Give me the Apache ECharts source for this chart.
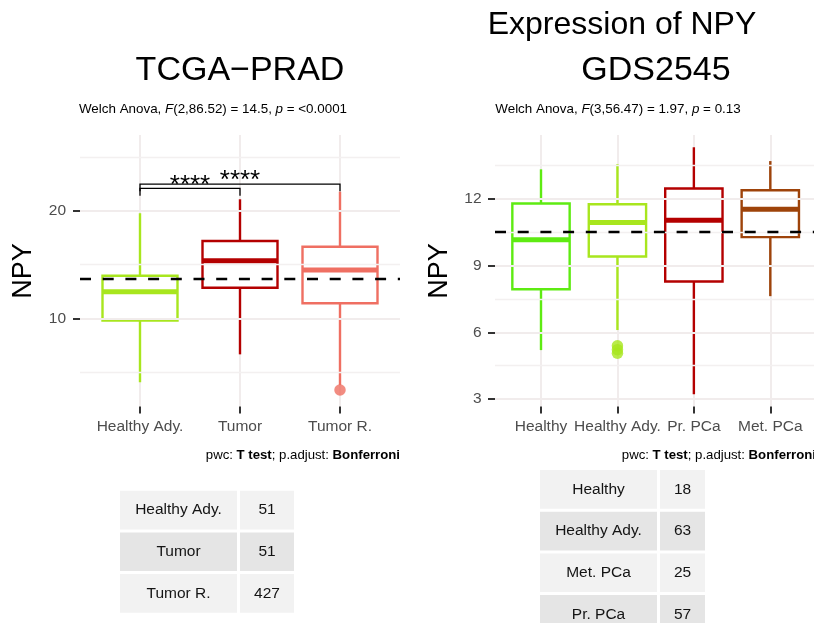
<!DOCTYPE html>
<html>
<head>
<meta charset="utf-8">
<script src="https://cdn.jsdelivr.net/npm/echarts@6/dist/echarts.min.js"></script>
<style>
  html, body { margin: 0; padding: 0; background: #ffffff; }
  #chart { width: 814px; height: 623px; }
</style>
</head>
<body>
<div id="chart"></div>
<script>
// ---- TCGA-PRAD ----
const tcgaGroups = ['Healthy Ady.', 'Tumor', 'Tumor R.'];
// [lower whisker, Q1, median, Q3, upper whisker]
const tcgaBoxes = [
  [4.04, 9.78, 12.48, 13.97, 19.79],
  [6.64, 12.85, 15.37, 17.20, 21.09],
  [3.78, 11.40, 14.50, 16.67, 21.80]
];
const tcgaOutliers = [[2, 3.32]];
const tcgaMean = 13.66;
const tcgaRange = [1.78, 27.08];
const tcgaTicks = [10, 20];
const tcgaMinor = [5, 15, 25];
// [group a, group b, bracket height]
const tcgaBrackets = [[0, 1, 22.1], [0, 2, 22.51]];
const tcgaBracketLabels = ['****', '****'];
const tcgaBracketTip = 0.68;
const tcgaTableGroups = ['Healthy Ady.', 'Tumor', 'Tumor R.'];
const tcgaCounts = [51, 51, 427];

// ---- GDS2545 ----
const gdsGroups = ['Healthy', 'Healthy Ady.', 'Pr. PCa', 'Met. PCa'];
const gdsBoxes = [
  [5.20, 7.93, 10.15, 11.78, 13.31],
  [6.10, 9.40, 10.92, 11.74, 13.54],
  [3.22, 8.28, 11.02, 12.45, 14.30],
  [7.62, 10.27, 11.52, 12.37, 13.68]
];
const gdsOutliers = [[1, 5.39], [1, 5.22], [1, 5.06]];
const gdsMean = 10.5;
const gdsRange = [2.67, 14.85];
const gdsTicks = [3, 6, 9, 12];
const gdsMinor = [4.5, 7.5, 10.5, 13.5];
const gdsTableGroups = ['Healthy', 'Healthy Ady.', 'Met. PCa', 'Pr. PCa'];
const gdsCounts = [18, 63, 25, 57];

// group colours
const groupColor = {
  'Healthy': '#5EEB12',
  'Healthy Ady.': '#A8E61E',
  'Tumor': '#B40000',
  'Tumor R.': '#EF6F62',
  'Pr. PCa': '#B40000',
  'Met. PCa': '#9E430A'
};

const FONT = "'Liberation Sans', Arial, Helvetica, sans-serif";
const GRID_MAJOR = '#F1ECEC';
const GRID_MINOR = '#F3F0F0';
const ROW_PITCH = 41.7;

const chart = echarts.init(document.getElementById('chart'), null, { renderer: 'canvas' });

function boxRenderer(params, api) {
  const x = api.value(0);
  const lo = api.coord([x, api.value(1)]);
  const q1 = api.coord([x, api.value(2)]);
  const med = api.coord([x, api.value(3)]);
  const q3 = api.coord([x, api.value(4)]);
  const hi = api.coord([x, api.value(5)]);
  const half = api.size([1, 0])[0] * 0.375;
  const color = api.visual('color');
  return {
    type: 'group',
    children: [
      { type: 'line', shape: { x1: lo[0], y1: lo[1], x2: q1[0], y2: q1[1] },
        style: { stroke: color, lineWidth: 2.4 } },
      { type: 'line', shape: { x1: q3[0], y1: q3[1], x2: hi[0], y2: hi[1] },
        style: { stroke: color, lineWidth: 2.4 } },
      { type: 'rect', shape: { x: q3[0] - half, y: q3[1], width: half * 2, height: q1[1] - q3[1] },
        style: { fill: '#ffffff', stroke: color, lineWidth: 2.4 } },
      { type: 'line', shape: { x1: med[0] - half, y1: med[1], x2: med[0] + half, y2: med[1] },
        style: { stroke: color, lineWidth: 5, lineCap: 'butt' } }
    ]
  };
}

function bracketRenderer(labels, tip) {
  return function (params, api) {
    const a = api.value(0), b = api.value(1), y = api.value(2);
    const pa = api.coord([a, y]);
    const pb = api.coord([b, y]);
    const pTip = api.coord([a, y - tip]);
    const drop = pTip[1] - pa[1];
    const mid = (pa[0] + pb[0]) / 2;
    return {
      type: 'group',
      children: [
        { type: 'polyline',
          shape: { points: [[pa[0], pa[1] + drop], [pa[0], pa[1]], [pb[0], pb[1]], [pb[0], pb[1] + drop]] },
          style: { stroke: '#000', lineWidth: 1.3, fill: null } },
        { type: 'text',
          style: { text: labels[params.dataIndex], x: mid, y: pa[1] - 3,
                   align: 'center', verticalAlign: 'middle',
                   textAlign: 'center', textVerticalAlign: 'middle',
                   fontSize: 26, fontFamily: FONT, fill: '#000' } }
      ]
    };
  };
}

function tableRenderer(names, counts, firstColWidth) {
  return function (params, api) {
    const i = params.dataIndex;
    const center = api.coord([0, i]);
    const band = api.size([0, 1])[1];
    const cs = params.coordSys;
    const gap = 3;
    const top = center[1] - band / 2 + gap / 2;
    const h = band - gap;
    const x1 = cs.x + gap / 2;
    const x2 = x1 + firstColWidth + gap;
    const w2 = cs.x + cs.width - gap / 2 - x2;
    const fill = i % 2 === 0 ? '#F2F2F2' : '#E5E5E5';
    const txt = (t, x) => ({
      type: 'text',
      style: { text: t, x: x, y: center[1], align: 'center', verticalAlign: 'middle',
               textAlign: 'center', textVerticalAlign: 'middle',
               fontSize: 15.5, fontFamily: FONT, fill: '#141414' }
    });
    return {
      type: 'group',
      children: [
        { type: 'rect', shape: { x: x1, y: top, width: firstColWidth, height: h }, style: { fill: fill } },
        { type: 'rect', shape: { x: x2, y: top, width: w2, height: h }, style: { fill: fill } },
        txt(names[i], x1 + firstColWidth / 2),
        txt(String(counts[i]), x2 + w2 / 2)
      ]
    };
  };
}

function gridLines(major, minor) {
  return major.map(v => ({ yAxis: v, lineStyle: { color: GRID_MAJOR, width: 2, type: 'solid' } }))
    .concat(minor.map(v => ({ yAxis: v, lineStyle: { color: GRID_MINOR, width: 1.3, type: 'solid' } })));
}

function valueY(gridIndex, range, ticks, margin) {
  return {
    type: 'value', gridIndex: gridIndex, min: range[0], max: range[1],
    axisLine: { show: false },
    axisTick: { show: true, customValues: ticks, length: 7, lineStyle: { color: '#333333', width: 2 } },
    axisLabel: { show: true, customValues: ticks, color: '#4D4D4D', fontSize: 15.5, fontFamily: FONT, margin: margin },
    splitLine: { show: false }
  };
}

function hiddenY(gridIndex, range) {
  return { type: 'value', gridIndex: gridIndex, min: range[0], max: range[1], show: false,
           splitLine: { show: false } };
}

// table rows: row i sits at value i, one row per ROW_PITCH pixels
function rowsY(gridIndex, gridHeight) {
  return { type: 'value', gridIndex: gridIndex, inverse: true, min: -0.5,
           max: -0.5 + gridHeight / ROW_PITCH, show: false, splitLine: { show: false } };
}

function categoryX(gridIndex, groups) {
  return {
    type: 'category', gridIndex: gridIndex, data: groups, boundaryGap: false,
    axisLine: { show: false },
    axisTick: { show: true, interval: 0, length: 7, lineStyle: { color: '#333333', width: 2 } },
    axisLabel: { show: true, interval: 0, hideOverlap: false, color: '#4D4D4D', fontSize: 15.5, fontFamily: FONT, margin: 12 },
    splitLine: { show: true, interval: 0, lineStyle: { color: GRID_MAJOR, width: 2 } }
  };
}

function hiddenX(gridIndex) {
  return { type: 'value', gridIndex: gridIndex, min: 0, max: 1, show: false, splitLine: { show: false } };
}

function boxData(groups, boxes) {
  return boxes.map((b, i) => ({ value: [i].concat(b), itemStyle: { color: groupColor[groups[i]] } }));
}

function outlierData(groups, pts) {
  return pts.map(p => ({ value: p, itemStyle: { color: groupColor[groups[p[0]]] } }));
}

const plainText = (text, x, y, size, extra) => ({
  type: 'text', x: x, y: y, silent: true,
  style: Object.assign({ text: text, fontSize: size, fontFamily: FONT, fill: '#000',
                         align: 'center', verticalAlign: 'middle',
                         textAlign: 'center', textVerticalAlign: 'middle' }, extra || {})
});

const italic = { fontStyle: 'italic', fontSize: 13.4, fontFamily: FONT, fill: '#000' };
const bold = { fontWeight: 'bold', fontSize: 13.2, fontFamily: FONT, fill: '#000' };

const TABLE_L_H = 3 * ROW_PITCH;
const TABLE_R_H = 623 - 468.5;

const option = {
  animation: false,
  backgroundColor: '#ffffff',
  grid: [
    { left: 80, width: 320, top: 135, height: 271.5 },
    { left: 140, width: 200, top: 135, height: 271.5 },
    { left: 495, width: 321, top: 135, height: 271.5 },
    { left: 541, width: 229.3, top: 135, height: 271.5 },
    { left: 118.5, width: 177, top: 489.2, height: TABLE_L_H },
    { left: 538.5, width: 168, top: 468.5, height: TABLE_R_H }
  ],
  xAxis: [
    hiddenX(0),
    categoryX(1, tcgaGroups),
    hiddenX(2),
    categoryX(3, gdsGroups),
    hiddenX(4),
    hiddenX(5)
  ],
  yAxis: [
    valueY(0, tcgaRange, tcgaTicks, 14),
    hiddenY(1, tcgaRange),
    valueY(2, gdsRange, gdsTicks, 13.5),
    hiddenY(3, gdsRange),
    rowsY(4, TABLE_L_H),
    rowsY(5, TABLE_R_H)
  ],
  series: [
    // panel grid lines
    { type: 'line', xAxisIndex: 0, yAxisIndex: 0, data: [], silent: true, z: 0,
      markLine: { silent: true, symbol: ['none', 'none'], label: { show: false }, animation: false,
                  data: gridLines(tcgaTicks, tcgaMinor) } },
    { type: 'line', xAxisIndex: 2, yAxisIndex: 2, data: [], silent: true, z: 0,
      markLine: { silent: true, symbol: ['none', 'none'], label: { show: false }, animation: false,
                  data: gridLines(gdsTicks, gdsMinor) } },
    // boxes
    { type: 'custom', xAxisIndex: 1, yAxisIndex: 1, z: 3, silent: true,
      encode: { x: 0, y: [1, 2, 3, 4, 5] },
      renderItem: boxRenderer, data: boxData(tcgaGroups, tcgaBoxes) },
    { type: 'custom', xAxisIndex: 3, yAxisIndex: 3, z: 3, silent: true,
      encode: { x: 0, y: [1, 2, 3, 4, 5] },
      renderItem: boxRenderer, data: boxData(gdsGroups, gdsBoxes) },
    // outliers
    { type: 'scatter', xAxisIndex: 1, yAxisIndex: 1, z: 4, silent: true, symbolSize: 11.5,
      data: outlierData(tcgaGroups, tcgaOutliers) },
    { type: 'scatter', xAxisIndex: 3, yAxisIndex: 3, z: 4, silent: true, symbolSize: 11.5,
      data: outlierData(gdsGroups, gdsOutliers) },
    // overall mean
    { type: 'line', xAxisIndex: 0, yAxisIndex: 0, data: [], silent: true, z: 6,
      markLine: { silent: true, symbol: ['none', 'none'], label: { show: false }, animation: false, z: 6,
                  lineStyle: { color: '#000', width: 2.4, type: [11, 11.7] },
                  data: [{ yAxis: tcgaMean }] } },
    { type: 'line', xAxisIndex: 2, yAxisIndex: 2, data: [], silent: true, z: 6,
      markLine: { silent: true, symbol: ['none', 'none'], label: { show: false }, animation: false, z: 6,
                  lineStyle: { color: '#000', width: 2.4, type: [11, 11.7] },
                  data: [{ yAxis: gdsMean }] } },
    // pairwise comparisons
    { type: 'custom', xAxisIndex: 1, yAxisIndex: 1, z: 7, silent: true,
      renderItem: bracketRenderer(tcgaBracketLabels, tcgaBracketTip), data: tcgaBrackets },
    // sample size tables
    { type: 'custom', xAxisIndex: 4, yAxisIndex: 4, silent: true,
      renderItem: tableRenderer(tcgaTableGroups, tcgaCounts, 117),
      data: tcgaTableGroups.map((g, i) => [0, i]) },
    { type: 'custom', xAxisIndex: 5, yAxisIndex: 5, silent: true,
      renderItem: tableRenderer(gdsTableGroups, gdsCounts, 117),
      data: gdsTableGroups.map((g, i) => [0, i]) }
  ],
  graphic: [
    plainText('TCGA\u2212PRAD', 240, 71, 34),
    plainText('Expression of NPY', 622, 25, 32),
    plainText('GDS2545', 656, 71, 34),
    plainText('Welch Anova, {i|F}(2,86.52) = 14.5, {i|p} = <0.0001', 213, 109, 13.4, { rich: { i: italic } }),
    plainText('Welch Anova, {i|F}(3,56.47) = 1.97, {i|p} = 0.13', 618, 109, 13.4, { rich: { i: italic } }),
    plainText('pwc: {b|T test}; p.adjust: {b|Bonferroni}', 400, 455, 13.2,
              { rich: { b: bold }, align: 'right', textAlign: 'right' }),
    plainText('pwc: {b|T test}; p.adjust: {b|Bonferroni}', 816, 455, 13.2,
              { rich: { b: bold }, align: 'right', textAlign: 'right' }),
    Object.assign(plainText('NPY', 24, 271, 27), { rotation: Math.PI / 2 }),
    Object.assign(plainText('NPY', 440, 271, 27), { rotation: Math.PI / 2 })
  ]
};

chart.setOption(option);
</script>
</body>
</html>
